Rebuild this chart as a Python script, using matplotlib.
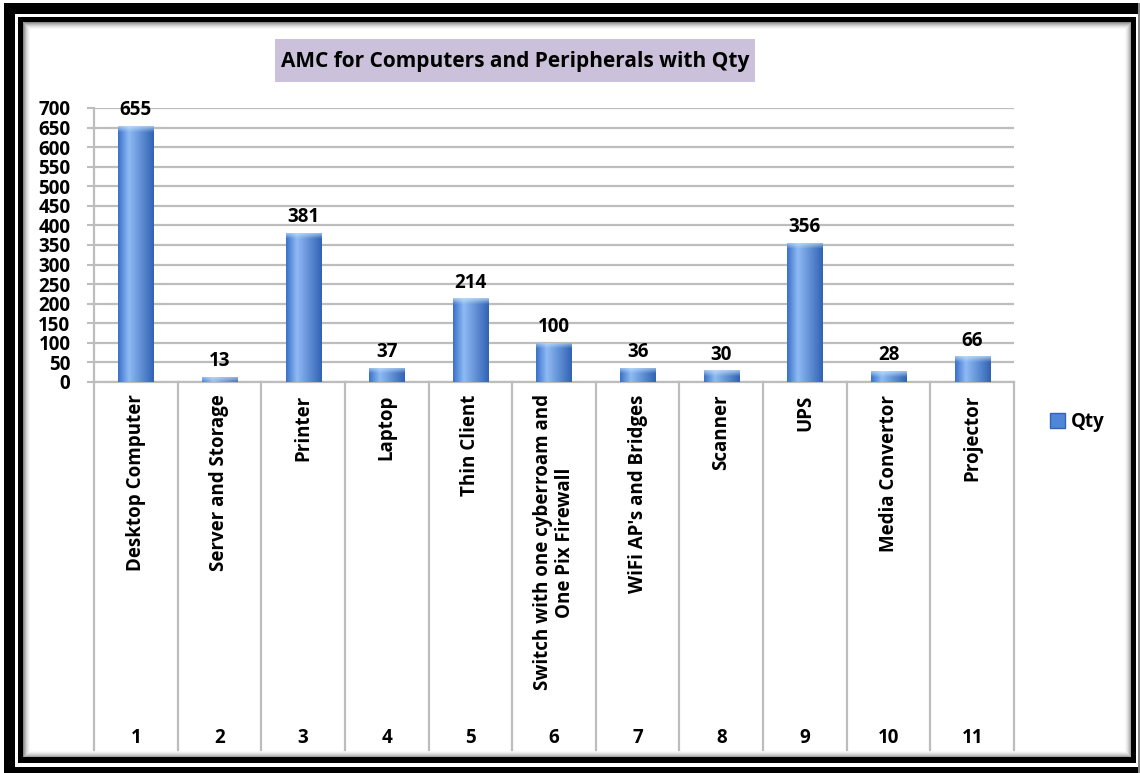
import numpy as np
import matplotlib
matplotlib.use("Agg")
import matplotlib.pyplot as plt
from matplotlib.patches import Rectangle, Patch
from matplotlib.colors import to_rgb

# Data
categories = [
    "Desktop Computer",
    "Server and Storage",
    "Printer",
    "Laptop",
    "Thin Client",
    "Switch with one cyberroam and\nOne Pix Firewall",
    "WiFi AP's and Bridges",
    "Scanner",
    "UPS",
    "Media Convertor",
    "Projector",
]
serial_no = ["1", "2", "3", "4", "5", "6", "7", "8", "9", "10", "11"]
qty = [655, 13, 381, 37, 214, 100, 36, 30, 356, 28, 66]
y_ticks = list(range(0, 701, 50))

plt.rcParams["font.family"] = ["Open Sans", "DejaVu Sans"]
plt.rcParams["font.weight"] = "bold"

W, H = 1140, 773
fig = plt.figure(figsize=(W / 100, H / 100), dpi=100)
fig.patch.set_facecolor("white")

# ---- picture frame drawn in pixel coordinates ----
bg = fig.add_axes([0, 0, 1, 1])
bg.set_xlim(0, W)
bg.set_ylim(H, 0)
bg.axis("off")
bg.set_zorder(-5)

# outer frame
bg.add_patch(Rectangle((4, 3), 11, H - 3, color="black", lw=0))
bg.add_patch(Rectangle((4, 3), W - 4, 11, color="black", lw=0))
bg.add_patch(Rectangle((4, 767), W - 4, 6, color="black", lw=0))
bg.add_patch(Rectangle((1138, 3), 1.5, H - 3, color="#888888", lw=0))
# inner frame
bg.add_patch(Rectangle((18, 17), 5, 746, color="black", lw=0))
bg.add_patch(Rectangle((18, 17), 1118, 5, color="black", lw=0))
bg.add_patch(Rectangle((18, 757), 1118, 6, color="black", lw=0))
bg.add_patch(Rectangle((1131, 17), 5, 746, color="black", lw=0))
# soft shadow inside the inner frame
for k in range(8):
    a = 0.45 * (1 - k / 8) ** 2
    bg.add_patch(Rectangle((23 + k, 22 + k), 1108 - 2 * k, 735 - 2 * k,
                           fill=False, edgecolor=(0, 0, 0, a), lw=0.75))
# title box
bg.add_patch(Rectangle((275, 39), 480, 43, color="#ccc1da", lw=0))

# ---- main chart ----
left, right, top, bottom = 94, 1014, 108, 382
ax = fig.add_axes([left / W, 1 - bottom / H, (right - left) / W, (bottom - top) / H])
ax.patch.set_alpha(0)

x = np.arange(len(qty))
bar_w = 0.42
bars = ax.bar(x, qty, width=bar_w, color="#4f86d6", zorder=3)

# cylinder-like gradient fill for each bar
c_edge_l = np.array(to_rgb("#3b72c8"))
c_light = np.array(to_rgb("#8fbaf5"))
c_edge_r = np.array(to_rgb("#3263b4"))
c_cap = np.array(to_rgb("#c6e4fb"))
px_per_unit = (bottom - top) / 700.0
cols = np.linspace(0, 1, 60)
row_color = np.empty((60, 3))
for i, t in enumerate(cols):
    if t < 0.3:
        f = t / 0.3
        row_color[i] = c_edge_l * (1 - f) + c_light * f
    else:
        f = (t - 0.3) / 0.7
        row_color[i] = c_light * (1 - f) + c_edge_r * f
for b, v in zip(bars, qty):
    n = 120
    ys = np.linspace(0, v, n)
    cap = 6 / px_per_unit
    tcap = np.clip((ys - (v - cap)) / cap, 0, 1) * 0.75
    img = row_color[None, :, :] * (1 - tcap[:, None, None]) + c_cap[None, None, :] * tcap[:, None, None]
    im = ax.imshow(img, extent=(b.get_x(), b.get_x() + b.get_width(), 0, v),
                   origin="lower", aspect="auto", zorder=4, interpolation="bilinear")
    im.set_clip_path(b)
    ax.annotate(str(v), (b.get_x() + b.get_width() / 2, v), xytext=(0, 4),
                textcoords="offset points", ha="center", va="bottom",
                fontsize=13.5, fontweight="bold", zorder=5)

ax.set_xlim(-0.5, len(qty) - 0.5)
ax.set_ylim(0, 700)
ax.set_yticks(y_ticks)
ax.tick_params(axis="y", labelsize=13.5, length=5, width=1.5, color="#bdbdbd", pad=12)
ax.yaxis.grid(True, color="#bdbdbd", lw=1.6, zorder=1)
ax.set_axisbelow(True)
for s in ["top", "right"]:
    ax.spines[s].set_visible(False)
for s in ["left", "bottom"]:
    ax.spines[s].set_color("#bdbdbd")
    ax.spines[s].set_linewidth(1.6)

ax.set_xticks(x)
ax.set_xticklabels(categories, rotation=90, fontsize=13.5, fontweight="bold",
                   va="top", ha="center", multialignment="center", linespacing=1.1)
ax.tick_params(axis="x", length=0, pad=9)

# category table below the axis
trans = ax.get_xaxis_transform()
low = -(750 - bottom) / (bottom - top)
for xb in np.arange(-0.5, len(qty), 1.0):
    ax.plot([xb, xb], [0, low], transform=trans, color="#bdbdbd", lw=1.6,
            clip_on=False, zorder=2)
num_y = -(738 - bottom) / (bottom - top)
for xi, s in zip(x, serial_no):
    ax.text(xi, num_y, s, transform=trans, ha="center", va="center",
            fontsize=13.5, fontweight="bold")

# legend
fig.legend(handles=[Patch(facecolor="#4f86d6", edgecolor="#3263b4", label="Qty")],
           loc="center left", bbox_to_anchor=(1050 / W, 1 - 422 / H),
           frameon=False, fontsize=13.5, handlelength=0.8, handleheight=0.8,
           handletextpad=0.3, borderpad=0, borderaxespad=0)

# title
fig.text(515 / W, 1 - 61 / H, "AMC for Computers and Peripherals with Qty",
         ha="center", va="center", fontsize=15, fontweight="bold")

fig.savefig("out.png", dpi=100)
